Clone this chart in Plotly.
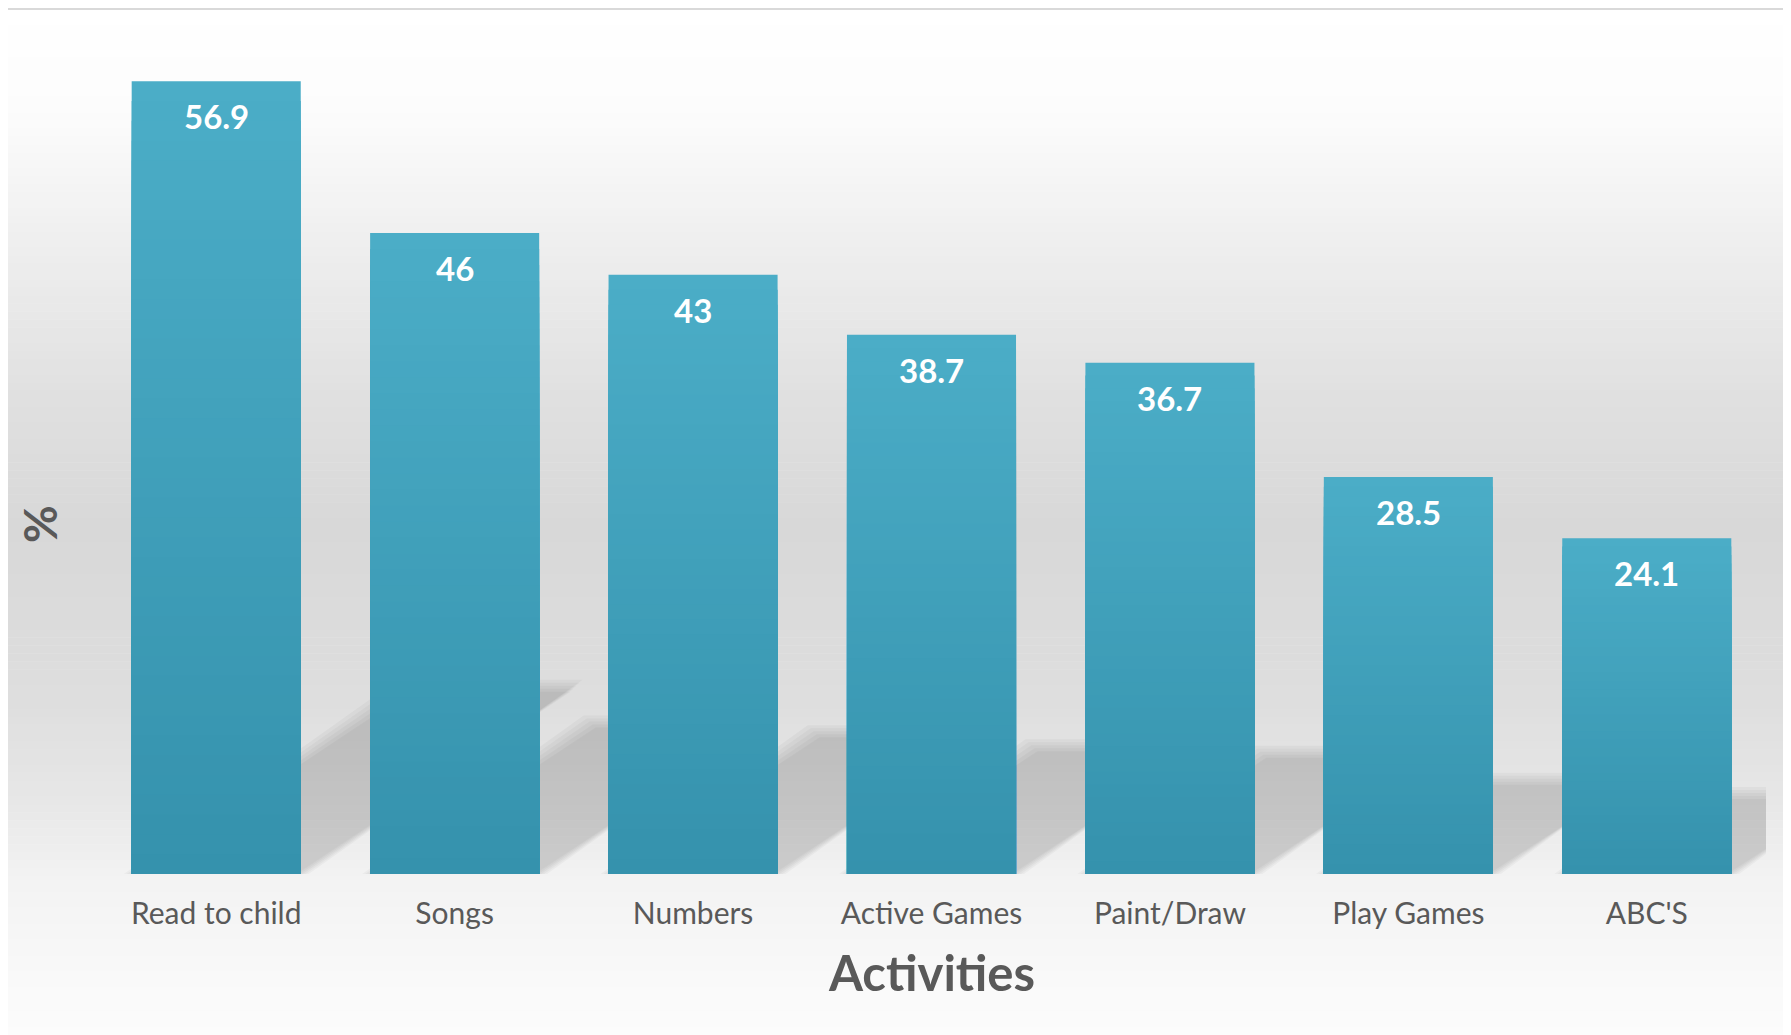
import plotly.graph_objects as go
import numpy as np

categories = ["Read to child", "Songs", "Numbers", "Active Games", "Paint/Draw", "Play Games", "ABC'S"]
values = [56.9, 46, 43, 38.7, 36.7, 28.5, 24.1]
value_labels = ["56.9", "46", "43", "38.7", "36.7", "28.5", "24.1"]
x_title = "Activities"
y_title = "%"

W, H = 1791, 1035
OFF = 8  # page body margin compensation
ML, MT = 97 - OFF, 38 - OFF
PH, PW = 836, 1669
MB = H - MT - PH
MR = W - ML - PW
Y_MAX = 60
BAR_GAP = 0.291
TEXT = "#595959"
FONT = "Lato"

def py(ypx):
    # reference-page y pixel -> paper coordinate
    return (MT + PH - (ypx - OFF)) / PH

def px(xpx):
    return ((xpx - OFF) - ML) / PW

def hex2rgb(h):
    h = h.lstrip("#")
    return np.array([int(h[i:i + 2], 16) for i in (0, 2, 4)], dtype=float)

def rgb(c):
    return "rgb(%d,%d,%d)" % tuple(int(round(v)) for v in c)

fig = go.Figure()
xs = list(range(len(categories)))

# --- background gradient (paper) ---
stops = [(9, "#ffffff"), (110, "#fcfcfc"), (250, "#eeeeee"), (400, "#e0e0e0"),
         (530, "#d8d8d8"), (700, "#dedede"), (800, "#e7e7e7"), (880, "#f3f3f3"), (1050, "#fdfdfd")]
sy = np.array([s[0] for s in stops], dtype=float)
sc = np.array([hex2rgb(s[1]) for s in stops])
shapes = []
nb = 130
edges = np.linspace(9, H + OFF, nb + 1)
for i in range(nb):
    yc = 0.5 * (edges[i] + edges[i + 1])
    col = [np.interp(yc, sy, sc[:, k]) for k in range(3)]
    shapes.append(dict(type="rect", xref="paper", yref="paper", layer="below",
                       x0=px(0), x1=px(W + OFF), y0=py(edges[i + 1] + 0.5), y1=py(edges[i]),
                       fillcolor=rgb(col), line=dict(width=0)))
# top border line
shapes.append(dict(type="line", xref="paper", yref="paper", layer="below",
                   x0=px(0), x1=px(W + OFF), y0=py(9), y1=py(9), line=dict(color="#d9d9d9", width=2)))

# --- shadows (computed from the data) ---
bw = 1 - BAR_GAP
cat_px = PW / len(categories)
unit_px = PH / Y_MAX
SLOPE = 0.68
for xi, v in zip(xs, values):
    dy = 0.235 * v
    dx = dy * unit_px / SLOPE / cat_px
    for grow in [8, 5, 2, -1, -4]:
        gx = grow / cat_px
        gy = grow / unit_px
        x0 = xi - bw / 2 - gx
        x1 = xi + bw / 2 + gx
        p = "M %f,%f L %f,%f L %f,%f L %f,%f Z" % (
            x0, 0, x1, 0, x1 + dx, dy + gy, x0 + dx, dy + gy)
        shapes.append(dict(type="path", xref="x", yref="y", layer="below", path=p,
                           fillcolor="rgba(0,0,0,0.033)", line=dict(width=0)))

# --- bars with vertical gradient (overlayed layers) ---
top_c = hex2rgb("#4badc7")
bot_c = hex2rgb("#3592ad")
N = 40
for k in range(N):
    f = 1 - k / N
    col = top_c + (bot_c - top_c) * (k / (N - 1))
    fig.add_trace(go.Bar(x=xs, y=[v * f for v in values], marker=dict(color=rgb(col), line=dict(width=0)),
                         width=bw, hoverinfo="skip", showlegend=False))

# data labels
annotations = []
for xi, v, t in zip(xs, values, value_labels):
    annotations.append(dict(x=xi, y=v, xref="x", yref="y", text=t, showarrow=False,
                            yanchor="top", yshift=-13,
                            font=dict(family=FONT, size=33, color="white", weight="bold")))
annotations.append(dict(x=0.5, y=py(972), xref="paper", yref="paper", text=x_title, showarrow=False,
                        xanchor="center", yanchor="middle",
                        font=dict(family=FONT, size=49, color=TEXT, weight="bold")))
annotations.append(dict(x=px(39), y=py(524), xref="paper", yref="paper", text=y_title, showarrow=False,
                        xanchor="center", yanchor="middle", textangle=-90,
                        font=dict(family=FONT, size=46, color=TEXT, weight="bold")))

fig.update_layout(
    width=W, height=H, barmode="overlay",
    margin=dict(l=ML, r=MR, t=MT, b=MB, autoexpand=False),
    paper_bgcolor="white", plot_bgcolor="rgba(0,0,0,0)",
    shapes=shapes, annotations=annotations, showlegend=False,
    xaxis=dict(tickmode="array", tickvals=xs, ticktext=categories, range=[-0.5, len(categories) - 0.5],
               showgrid=False, zeroline=False, showline=False, ticks="", ticklabelstandoff=19,
               tickfont=dict(family=FONT, size=30, color=TEXT)),
    yaxis=dict(range=[0, Y_MAX], showgrid=False, zeroline=False, showline=False,
               showticklabels=False, ticks=""),
)

fig.write_html("out.html")
